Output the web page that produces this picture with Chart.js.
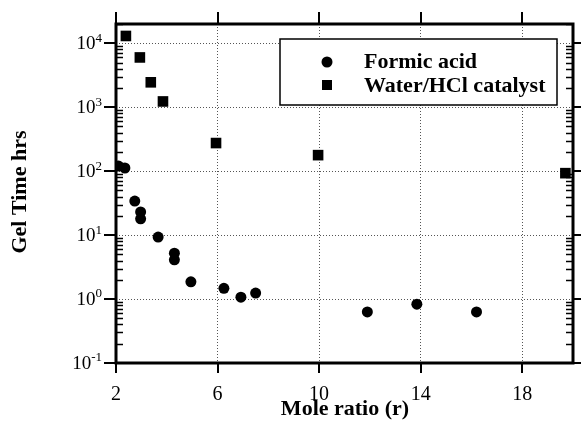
<!DOCTYPE html>
<html>
<head>
<meta charset="utf-8">
<script src="https://cdn.jsdelivr.net/npm/chart.js@4/dist/chart.umd.min.js"></script>
<style>
  html, body { margin: 0; padding: 0; background: #fff; }
  #wrap { width: 583px; height: 423px; }
</style>
</head>
<body>
<div id="wrap"><canvas id="gel"></canvas></div>
<script>
// mole ratio (r) vs gel time (hrs)
var formicX = [2.1, 2.35, 2.74, 2.97, 2.97, 3.66, 4.3, 4.3, 4.95, 6.25, 6.92, 7.5, 11.9, 13.85, 16.2];
var formicY = [120, 112, 34, 23, 18, 9.3, 5.2, 4.1, 1.86, 1.47, 1.07, 1.24, 0.63, 0.83, 0.63];
var waterX = [2.39, 2.94, 3.37, 3.85, 5.94, 9.96, 19.7];
var waterY = [13000, 6000, 2450, 1230, 275, 178, 93];

var xTicks = [2, 6, 10, 14, 18];
var yTicks = [0.1, 1, 10, 100, 1000, 10000];
var yExp = ['-1', '0', '1', '2', '3', '4'];
var labels = ['Formic acid', 'Water/HCl catalyst'];

var serif = '"Liberation Serif", "Times New Roman", serif';

function pts(xs, ys) {
  return xs.map(function (x, i) { return {x: x, y: ys[i]}; });
}

// frame, tick marks, y labels, titles and boxed legend
var decor = {
  id: 'decor',
  afterDatasetsDraw: function (chart) {
    var ctx = chart.ctx, a = chart.chartArea;
    var xs = chart.scales.x, ys = chart.scales.y;
    ctx.save();
    ctx.strokeStyle = '#000';

    // x major ticks, top and bottom
    ctx.lineWidth = 2;
    xTicks.forEach(function (v) {
      var px = Math.round(xs.getPixelForValue(v));
      ctx.beginPath();
      ctx.moveTo(px, a.bottom); ctx.lineTo(px, a.bottom + 10);
      ctx.moveTo(px, a.top); ctx.lineTo(px, a.top - 12);
      ctx.stroke();
    });

    // y major ticks, outward on both sides
    yTicks.forEach(function (v) {
      var py = Math.round(ys.getPixelForValue(v));
      ctx.beginPath();
      ctx.moveTo(a.left, py); ctx.lineTo(a.left - 12, py);
      ctx.moveTo(a.right, py); ctx.lineTo(a.right + 8, py);
      ctx.stroke();
    });

    // y minor ticks, inward
    ctx.lineWidth = 1.5;
    yTicks.forEach(function (d) {
      for (var m = 2; m <= 9; m++) {
        var v = m * d;
        if (v > ys.max) break;
        var py = Math.round(ys.getPixelForValue(v)) + 0.5;
        ctx.beginPath();
        ctx.moveTo(a.left, py); ctx.lineTo(a.left + 7, py);
        ctx.moveTo(a.right, py); ctx.lineTo(a.right - 7, py);
        ctx.stroke();
      }
    });

    // frame
    ctx.lineWidth = 3;
    ctx.strokeRect(a.left, a.top, a.right - a.left, a.bottom - a.top);

    // y labels 10^n
    ctx.fillStyle = '#000';
    ctx.textAlign = 'right';
    ctx.textBaseline = 'middle';
    yTicks.forEach(function (v, i) {
      var py = ys.getPixelForValue(v);
      ctx.font = '13px ' + serif;
      var w = ctx.measureText(yExp[i]).width;
      ctx.fillText(yExp[i], 102, py - 5);
      ctx.font = '19px ' + serif;
      ctx.fillText('10', 102 - w, py + 1);
    });

    // axis titles
    ctx.font = 'bold 22px ' + serif;
    ctx.textAlign = 'center';
    ctx.fillText('Mole ratio (r)', 345, 409);
    ctx.save();
    ctx.translate(20, 192);
    ctx.rotate(-Math.PI / 2);
    ctx.fillText('Gel Time hrs', 0, 0);
    ctx.restore();

    // legend box
    var bx = 280, by = 39, bw = 277, bh = 66;
    ctx.fillStyle = '#fff';
    ctx.fillRect(bx, by, bw, bh);
    ctx.lineWidth = 1.5;
    ctx.strokeRect(bx, by, bw, bh);
    ctx.fillStyle = '#000';
    ctx.beginPath();
    ctx.arc(327, 62, 5.5, 0, Math.PI * 2);
    ctx.fill();
    ctx.fillRect(322, 80, 10, 10);
    ctx.font = 'bold 22px ' + serif;
    ctx.textAlign = 'left';
    ctx.fillText(labels[0], 364, 62);
    ctx.fillText(labels[1], 364, 86);

    ctx.restore();
  }
};

new Chart(document.getElementById('gel'), {
  type: 'scatter',
  data: {
    datasets: [
      {
        label: labels[0],
        data: pts(formicX, formicY),
        pointStyle: 'circle',
        pointRadius: 5.5,
        pointBorderWidth: 0,
        backgroundColor: '#000',
        borderColor: '#000'
      },
      {
        label: labels[1],
        data: pts(waterX, waterY),
        pointStyle: 'rect',
        pointRadius: 7.5,
        pointBorderWidth: 0,
        backgroundColor: '#000',
        borderColor: '#000'
      }
    ]
  },
  options: {
    responsive: true,
    maintainAspectRatio: false,
    animation: false,
    layout: { padding: { top: 24, right: 10, left: 0, bottom: 0 } },
    plugins: {
      legend: { display: false },
      tooltip: { enabled: false }
    },
    scales: {
      x: {
        type: 'linear',
        min: 2,
        max: 20,
        afterBuildTicks: function (s) { s.ticks = xTicks.map(function (v) { return {value: v}; }); },
        afterFit: function (s) { s.height = 60; },
        ticks: {
          color: '#000',
          font: { family: serif, size: 20 },
          padding: 20
        },
        grid: { color: '#555', lineWidth: 1, drawTicks: false },
        border: { display: false, dash: [1, 2] }
      },
      y: {
        type: 'logarithmic',
        min: 0.1,
        max: 20000,
        afterBuildTicks: function (s) { s.ticks = yTicks.map(function (v) { return {value: v}; }); },
        afterFit: function (s) { s.width = 116; },
        ticks: { display: false },
        grid: { color: '#555', lineWidth: 1, drawTicks: false },
        border: { display: false, dash: [1, 2] }
      }
    }
  },
  plugins: [decor]
});
</script>
</body>
</html>
